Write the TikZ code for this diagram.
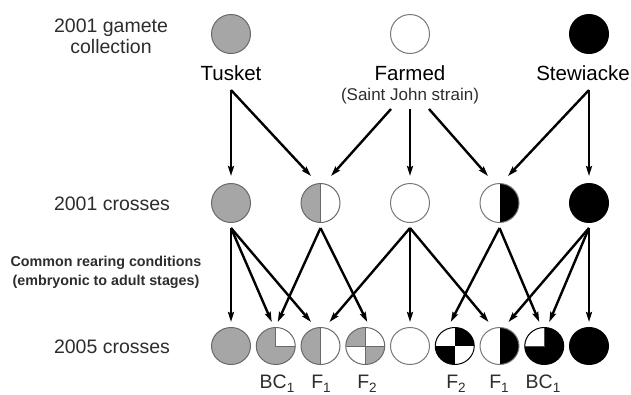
\documentclass[tikz,border=0pt]{standalone}
\usepackage{fontspec}
\setmainfont{Liberation Sans}
\usetikzlibrary{arrows.meta,shapes.geometric}
\definecolor{fillgray}{RGB}{166,166,166}
\definecolor{edgegray}{RGB}{105,105,105}
\definecolor{edgewhite}{RGB}{120,120,120}
\definecolor{txt}{RGB}{45,45,45}
\newcommand\sbs[1]{\raisebox{-4.5pt}{\fontsize{13.5}{14}\selectfont #1}}
\begin{document}
\begin{tikzpicture}[x=1pt,y=-1pt,
  cbase/.style={ellipse, minimum width=39pt, minimum height=39pt, inner sep=0pt, line width=1pt},
  low/.style={minimum height=37pt},
  gc/.style={cbase, fill=fillgray, draw=edgegray},
  wc/.style={cbase, fill=white, draw=edgewhite},
  bc/.style={cbase, fill=black, draw=black},
  fonegray/.style={cbase, fill=white, draw=edgegray, path picture={
      \fill[fillgray] (path picture bounding box.north west) rectangle (path picture bounding box.south);
      \draw[edgegray, line width=1pt] (path picture bounding box.north) -- (path picture bounding box.south);}},
  foneblack/.style={cbase, fill=white, draw=edgewhite, path picture={
      \fill[black] (path picture bounding box.north) rectangle (path picture bounding box.south east);}},
  bconegray/.style={cbase, fill=fillgray, draw=edgegray, path picture={
      \fill[white] (path picture bounding box.center) rectangle (path picture bounding box.north east);
      \draw[edgegray, line width=1pt] (path picture bounding box.north) -- (path picture bounding box.center) -- (path picture bounding box.east);}},
  bconeblack/.style={cbase, fill=black, draw=black, path picture={
      \fill[white] (path picture bounding box.north west) rectangle (path picture bounding box.center);
      \draw[black!70, line width=0.8pt] (path picture bounding box.north) -- (path picture bounding box.center) -- (path picture bounding box.west);}},
  ftwogray/.style={cbase, fill=white, draw=edgegray, path picture={
      \fill[fillgray] (path picture bounding box.north west) rectangle (path picture bounding box.center);
      \fill[fillgray] (path picture bounding box.center) rectangle (path picture bounding box.south east);
      \draw[edgegray, line width=1pt] (path picture bounding box.north) -- (path picture bounding box.south)
        (path picture bounding box.west) -- (path picture bounding box.east);}},
  ftwoblack/.style={cbase, fill=white, draw=black, path picture={
      \fill[black] (path picture bounding box.center) rectangle (path picture bounding box.north east);
      \fill[black] (path picture bounding box.center) rectangle (path picture bounding box.south west);}},
  arr/.style={line width=2.4pt, -{Stealth[length=10pt,width=6pt,inset=1.5pt]}},
  lbl/.style={font=\fontsize{20.5}{24}\selectfont, text=black, anchor=base, inner sep=0pt},
  side/.style={font=\fontsize{19.5}{22}\selectfont, text=txt, anchor=base, inner sep=0pt},
  note/.style={font=\bfseries\fontsize{14.3}{16}\selectfont, text=txt, anchor=base, inner sep=0pt},
  strain/.style={font=\fontsize{17}{19}\selectfont, text=txt, anchor=base, inner sep=0pt},
  gen/.style={font=\fontsize{19.5}{22}\selectfont, text=txt, anchor=base, inner sep=0pt},
]
\useasboundingbox (0,0) rectangle (631,394);

% left labels
\node[side] (gamA) at (111,32) {2001 gamete};
\node[side] (gamB) at (111,53) {collection};
\node[side] (crA) at (112,210) {2001 crosses};
\node[note] (comA) at (106,266.5) {Common rearing conditions};
\node[note] (comB) at (106,285) {(embryonic to adult stages)};
\node[side] (crB) at (112,353) {2005 crosses};

% 2001 gamete collection
\node[gc] (g1) at (231,34) {};
\node[wc] (g2) at (410,34) {};
\node[bc] (g3) at (589,34) {};
\node[lbl] (tusk) at (231,80) {Tusket};
\node[lbl] (farm) at (410,80) {Farmed};
\node[strain] (sj) at (410,100) {(Saint John strain)};
\node[lbl] (stew) at (583,80) {Stewiacke};
\coordinate (tout) at (231,90);
\coordinate (fout1) at (391,109);
\coordinate (fout2) at (410,109);
\coordinate (fout3) at (429,109);
\coordinate (sout) at (589,90);

% 2001 crosses
\node[gc] (c20) at (231,203) {};
\node[fonegray] (c21) at (320.5,203) {};
\node[wc] (c22) at (410,203) {};
\node[foneblack] (c23) at (499.5,203) {};
\node[bc] (c24) at (589,203) {};

% 2005 crosses
\node[gc,low] (c30) at (231,346) {};
\node[bconegray,low] (c31) at (275.75,346) {};
\node[fonegray,low] (c32) at (320.5,346) {};
\node[ftwogray,low] (c33) at (365.25,346) {};
\node[wc,low] (c34) at (410,346) {};
\node[ftwoblack,low] (c35) at (454.75,346) {};
\node[foneblack,low] (c36) at (499.5,346) {};
\node[bconeblack,low] (c37) at (544.25,346) {};
\node[bc,low] (c38) at (589,346) {};

\node[gen] (l31) at (277,388) {BC\sbs{1}};
\node[gen] (l32) at (321,388) {F\sbs{1}};
\node[gen] (l33) at (367,388) {F\sbs{2}};
\node[gen] (l35) at (456,388) {F\sbs{2}};
\node[gen] (l36) at (499,388) {F\sbs{1}};
\node[gen] (l37) at (543,388) {BC\sbs{1}};

% gametes -> 2001 crosses
\draw[arr] (tout) -- ([yshift=7pt]c20.north);
\draw[arr] (tout) -- ([xshift=-9.5pt,yshift=7pt]c21.north);
\draw[arr] (fout1) -- ([xshift=10.5pt,yshift=7pt]c21.north);
\draw[arr] (fout2) -- ([yshift=7pt]c22.north);
\draw[arr] (fout3) -- ([xshift=-11.5pt,yshift=7pt]c23.north);
\draw[arr] (sout) -- ([xshift=8.5pt,yshift=7pt]c23.north);
\draw[arr] (sout) -- ([yshift=7pt]c24.north);

% 2001 crosses -> 2005 crosses
\draw[arr] ([yshift=-5pt]c20.south) -- ([yshift=5pt]c30.north);
\draw[arr] ([yshift=-5pt]c20.south) -- ([xshift=-4pt,yshift=5pt]c31.north);
\draw[arr] ([yshift=-5pt]c20.south) -- ([xshift=-9.5pt,yshift=5pt]c32.north);
\draw[arr] ([yshift=-5pt]c21.south) -- ([xshift=2pt,yshift=5pt]c31.north);
\draw[arr] ([yshift=-5pt]c21.south) -- ([xshift=2pt,yshift=5pt]c33.north);
\draw[arr] ([yshift=-5pt]c22.south) -- ([xshift=9pt,yshift=5pt]c32.north);
\draw[arr] ([yshift=-5pt]c22.south) -- ([yshift=5pt]c34.north);
\draw[arr] ([yshift=-5pt]c22.south) -- ([xshift=-11pt,yshift=5pt]c36.north);
\draw[arr] ([yshift=-5pt]c23.south) -- ([xshift=-4pt,yshift=5pt]c35.north);
\draw[arr] ([yshift=-5pt]c23.south) -- ([xshift=-5pt,yshift=5pt]c37.north);
\draw[arr] ([yshift=-5pt]c24.south) -- ([xshift=9pt,yshift=5pt]c36.north);
\draw[arr] ([yshift=-5pt]c24.south) -- ([xshift=5pt,yshift=5pt]c37.north);
\draw[arr] ([yshift=-5pt]c24.south) -- ([yshift=5pt]c38.north);
\end{tikzpicture}
\end{document}
